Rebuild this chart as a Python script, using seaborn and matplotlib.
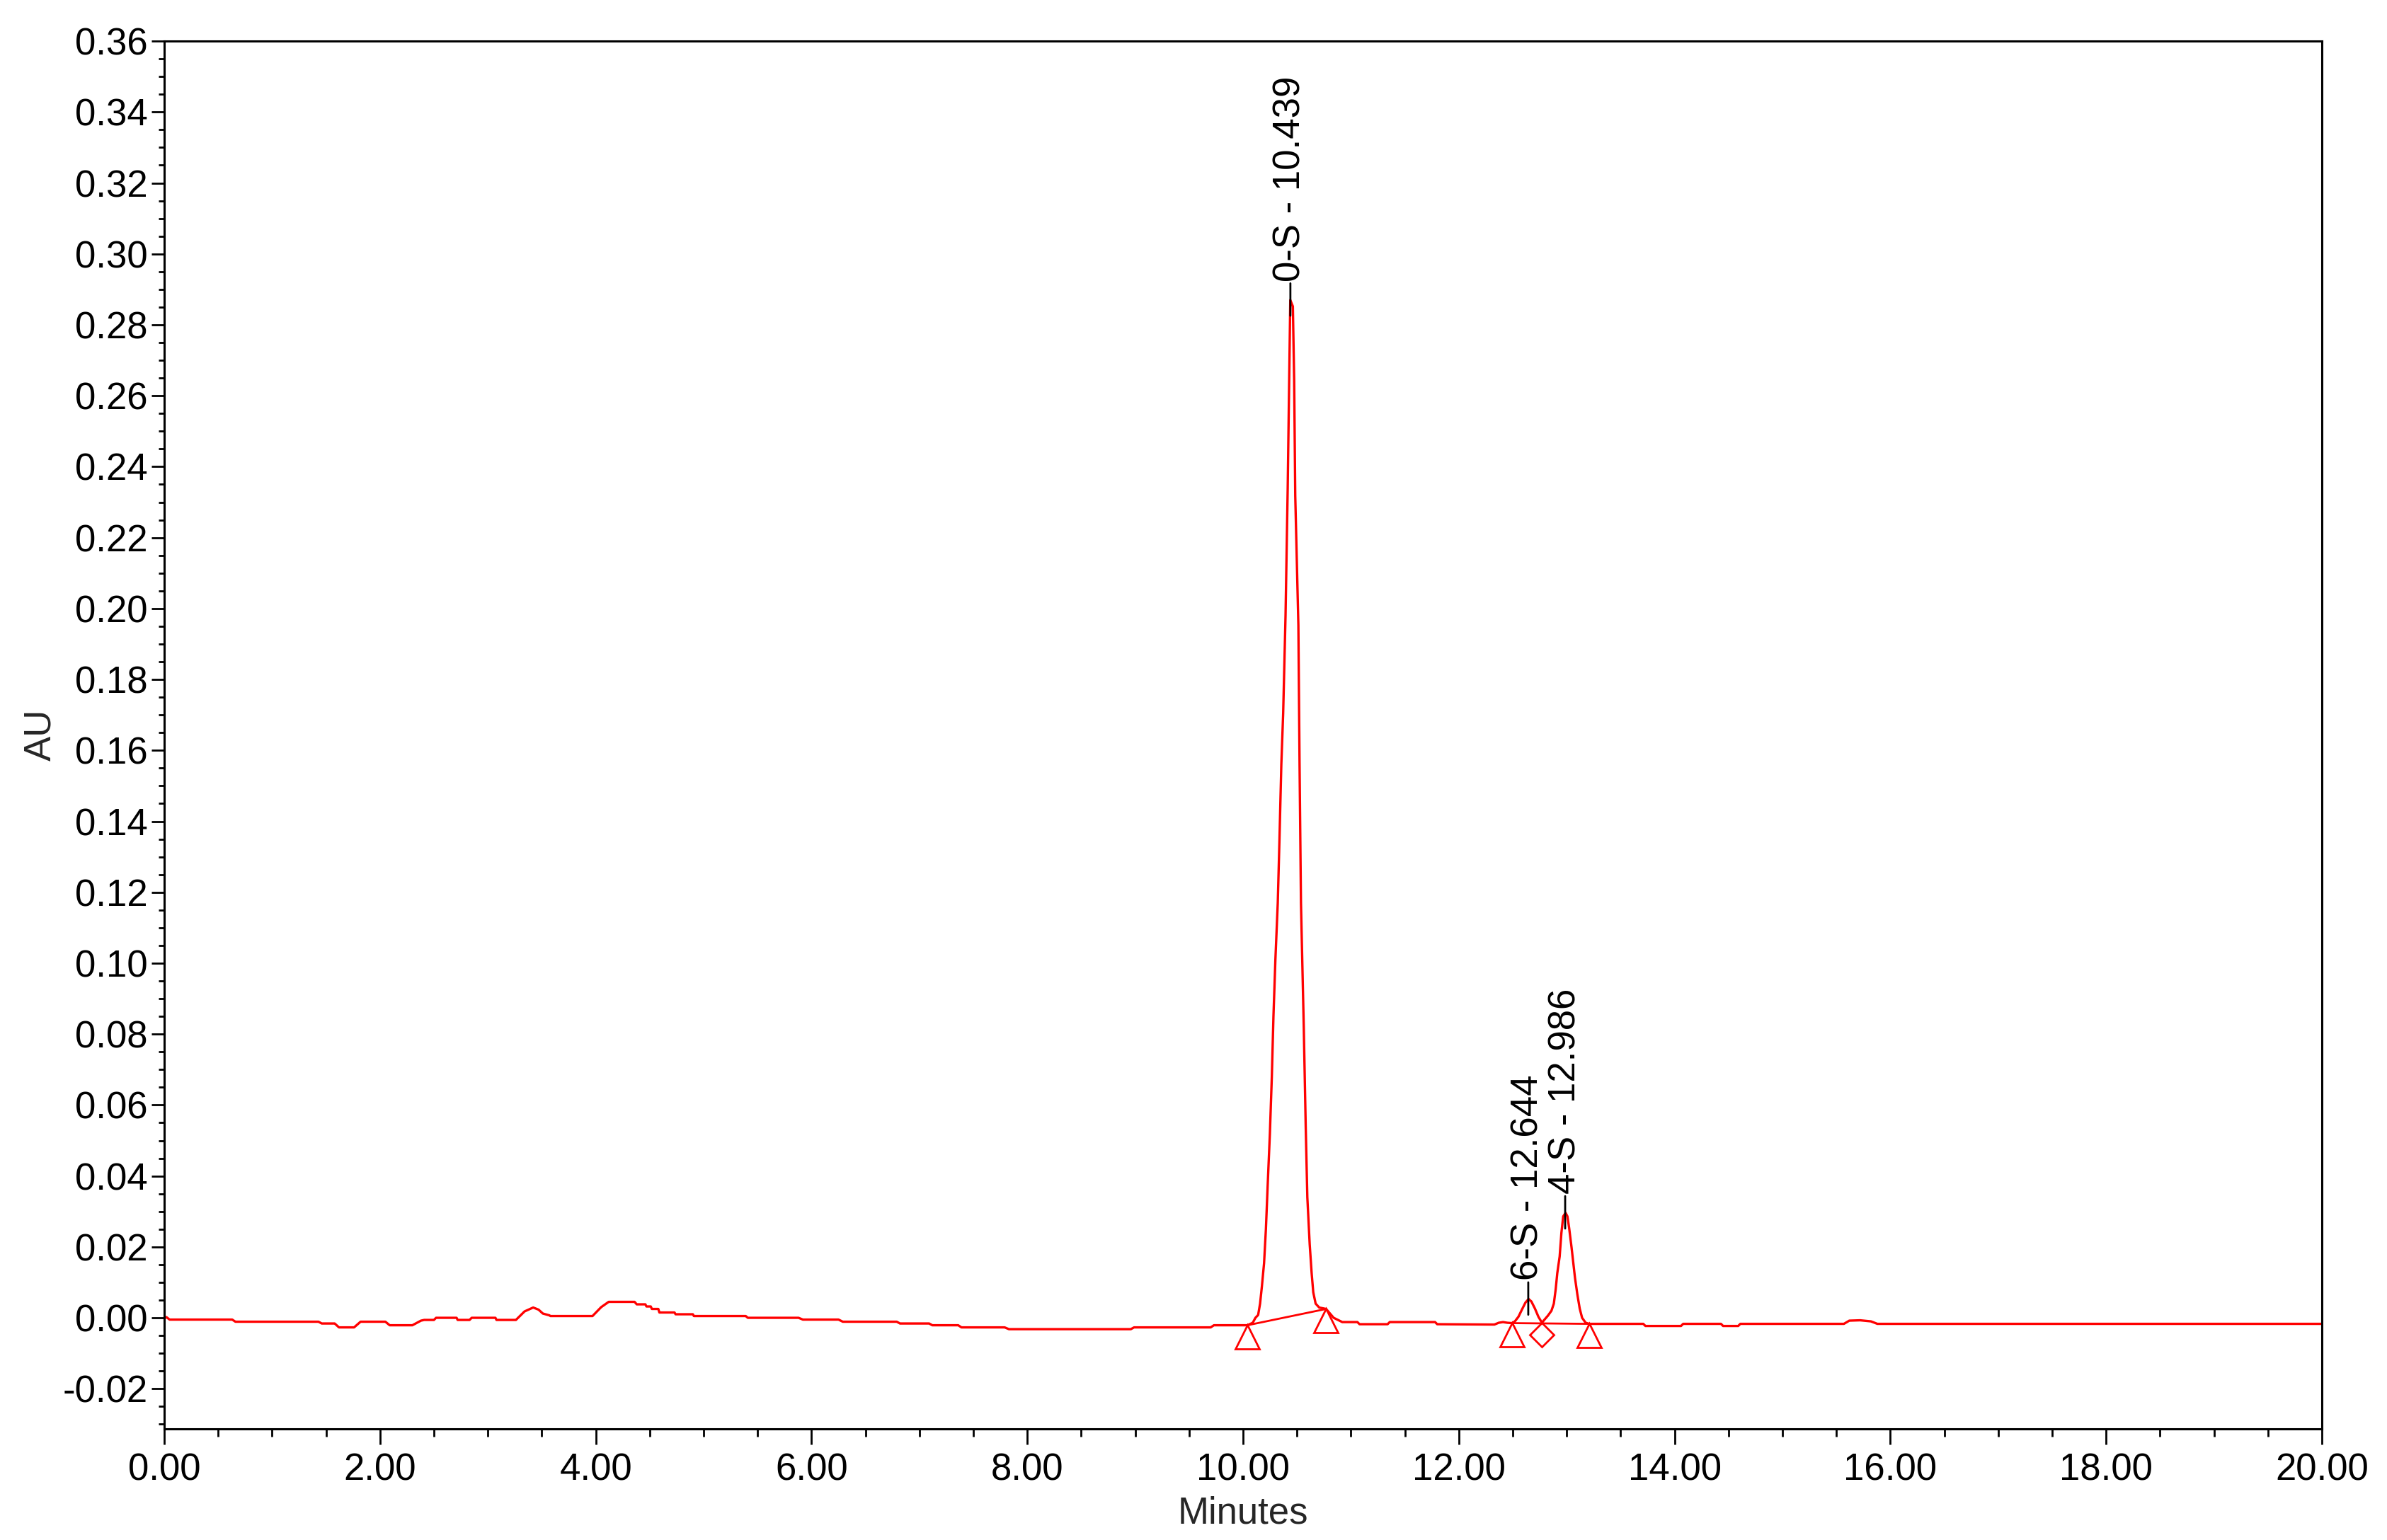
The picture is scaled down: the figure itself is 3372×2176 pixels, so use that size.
import matplotlib
matplotlib.use("Agg")
import matplotlib.pyplot as plt
import pandas as pd
import seaborn as sns
from matplotlib.ticker import MultipleLocator, FormatStrFormatter
from matplotlib.transforms import offset_copy

# chromatogram trace (minutes, AU)
minutes = [
    0.00, 0.02, 0.05, 0.63, 0.66, 1.43, 1.46, 1.58, 1.62, 1.76, 1.82, 2.05, 2.09, 2.30,
    2.38, 2.41, 2.50, 2.52, 2.71, 2.72, 2.83, 2.85, 3.07, 3.08, 3.26, 3.34, 3.42, 3.47,
    3.51, 3.57, 3.58, 3.97, 4.05, 4.12, 4.36, 4.38, 4.46, 4.47, 4.51, 4.52, 4.58, 4.59,
    4.73, 4.74, 4.90, 4.91, 5.39, 5.41, 5.88, 5.92, 6.25, 6.29, 6.79, 6.82, 7.09, 7.12,
    7.36, 7.39, 7.79, 7.83, 8.96, 8.99, 9.70, 9.73, 10.04,
    # 0-S
    10.09, 10.115, 10.140, 10.158, 10.175, 10.195, 10.212, 10.228, 10.249, 10.267,
    10.282, 10.300, 10.322, 10.337, 10.355, 10.372, 10.394, 10.414, 10.429, 10.438,
    10.462, 10.474, 10.484, 10.513, 10.524, 10.537, 10.563, 10.581, 10.596, 10.618,
    10.636, 10.651, 10.673, 10.706, 10.77, 10.84, 10.92,
    11.06, 11.08, 11.34, 11.36, 11.78, 11.80, 12.33, 12.37, 12.41, 12.45,
    # 6-S and 4-S
    12.494, 12.520, 12.553, 12.585, 12.618, 12.647, 12.673, 12.706, 12.738, 12.771,
    12.789, 12.826, 12.859, 12.881, 12.898, 12.913, 12.935, 12.951, 12.968, 12.990,
    13.007, 13.023, 13.045, 13.060, 13.077, 13.099, 13.121, 13.143, 13.176, 13.209,
    13.71, 13.73, 14.06, 14.08, 14.43, 14.45, 14.59, 14.61, 15.57, 15.62, 15.72,
    15.82, 15.88, 20.00,
]
au = [
    -0.0002, 0.0002, -0.0005, -0.0005, -0.0011, -0.0011, -0.0016, -0.0016, -0.0027, -0.0027,
    -0.0011, -0.0011, -0.0021, -0.0021, -0.0008, -0.0006, -0.0006, 0.0000, 0.0000, -0.0006,
    -0.0006, 0.0000, 0.0000, -0.0006, -0.0006, 0.0018, 0.0029, 0.0023, 0.0012, 0.0007,
    0.0005, 0.0005, 0.0030, 0.0045, 0.0045, 0.0038, 0.0038, 0.0032, 0.0032, 0.0025,
    0.0025, 0.0015, 0.0015, 0.0010, 0.0010, 0.0005, 0.0005, 0.0000, 0.0000, -0.0005,
    -0.0005, -0.0011, -0.0011, -0.0016, -0.0016, -0.0021, -0.0021, -0.0027, -0.0027, -0.0032,
    -0.0032, -0.0027, -0.0027, -0.0021, -0.0021,
    -0.0014, 0.0000, 0.0008, 0.0040, 0.0089, 0.0154, 0.0250, 0.0370, 0.0520, 0.0680,
    0.0850, 0.1010, 0.1170, 0.1340, 0.1560, 0.1704, 0.1980, 0.2338, 0.2680, 0.2870,
    0.2852, 0.2643, 0.2318, 0.1953, 0.1560, 0.1170, 0.0820, 0.0540, 0.0340, 0.0207,
    0.0126, 0.0072, 0.0040, 0.0029, 0.0025, 0.0000, -0.0012,
    -0.0012, -0.0018, -0.0018, -0.0012, -0.0012, -0.0018, -0.0019, -0.0014, -0.0012, -0.0014,
    -0.0015, -0.0010, 0.0003, 0.0023, 0.0043, 0.0053, 0.0046, 0.0026, 0.0003, -0.0014,
    -0.0007, 0.0006, 0.0020, 0.0040, 0.0080, 0.0126, 0.0173, 0.0239, 0.0286, 0.0296,
    0.0286, 0.0253, 0.0199, 0.0159, 0.0113, 0.0066, 0.0026, 0.0000, -0.0014, -0.0017,
    -0.0017, -0.0023, -0.0023, -0.0017, -0.0017, -0.0023, -0.0023, -0.0017, -0.0017, -0.0008,
    -0.0007, -0.0010, -0.0017, -0.0017,
]

# integration marks
start_end_t = [10.04, 10.77, 12.494, 13.209]
start_end_au = [-0.0021, 0.0025, -0.0015, -0.0017]
valley_t = [12.771]
valley_au = [-0.0014]
# integration baselines (start -> end)
base_t = [[10.04, 10.77], [12.494, 13.209]]
base_au = [[-0.0021, 0.0025], [-0.0015, -0.0017]]

peak_names = ["0-S", "6-S", "4-S"]
peak_times = [10.439, 12.644, 12.986]
peak_heights = [0.2870, 0.0053, 0.0296]

sns.set_style("ticks")
plt.rcParams["font.family"] = ["Liberation Sans", "DejaVu Sans"]
plt.rcParams["axes.unicode_minus"] = False

fig = plt.figure(figsize=(16.86, 10.88), dpi=200)
ax = fig.add_axes([0.0688, 0.0722, 0.9039, 0.9011])

df = pd.DataFrame({"Minutes": minutes, "AU": au})
sns.lineplot(data=df, x="Minutes", y="AU", color="red", lw=1.2,
             estimator=None, sort=False, ax=ax)

for bt, ba in zip(base_t, base_au):
    ax.plot(bt, ba, color="red", lw=1.0)

# triangles / diamond hang below the point they mark
tri_trans = offset_copy(ax.transData, fig=fig, y=-6, units="points")
ax.plot(start_end_t, start_end_au, ls="none", marker="^", ms=12, mfc="none",
        mec="red", mew=1.0, transform=tri_trans)
dia_trans = offset_copy(ax.transData, fig=fig, y=-6, units="points")
ax.plot(valley_t, valley_au, ls="none", marker="D", ms=8.5, mfc="none",
        mec="red", mew=1.0, transform=dia_trans)

low = offset_copy(ax.transData, fig=fig, y=-8, units="points")
high = offset_copy(ax.transData, fig=fig, y=8.5, units="points")
for name, rt, h in zip(peak_names, peak_times, peak_heights):
    ax.annotate("", xy=(rt, h), xycoords=low, xytext=(rt, h), textcoords=high,
                arrowprops=dict(arrowstyle="-", color="black", lw=1.0,
                                shrinkA=0, shrinkB=0))
    ax.annotate(f"{name} - {rt:.3f}", xy=(rt, h), xytext=(0, 9.5),
                textcoords="offset points", rotation=90, ha="center",
                va="bottom", fontsize=19, color="black")

ax.set_xlim(0, 20)
ax.set_ylim(-0.0313, 0.36)
ax.xaxis.set_major_locator(MultipleLocator(2))
ax.xaxis.set_minor_locator(MultipleLocator(0.5))
ax.yaxis.set_major_locator(MultipleLocator(0.02))
ax.yaxis.set_minor_locator(MultipleLocator(0.005))
ax.xaxis.set_major_formatter(FormatStrFormatter("%.2f"))
ax.yaxis.set_major_formatter(FormatStrFormatter("%.2f"))

ax.tick_params(axis="x", which="major", length=8, width=1.0, pad=4, labelsize=19)
ax.tick_params(axis="x", which="minor", length=4, width=1.0)
ax.tick_params(axis="y", which="major", length=6.5, width=1.0, pad=2, labelsize=19)
ax.tick_params(axis="y", which="minor", length=3, width=1.0)
ax.tick_params(top=False, right=False, which="both", colors="black")

for sp in ax.spines.values():
    sp.set_visible(True)
    sp.set_color("black")
    sp.set_linewidth(1.1)

ax.set_xlabel("Minutes", fontsize=19, labelpad=4)
ax.set_ylabel("AU", fontsize=19, labelpad=2)

fig.savefig("out.png", dpi=200)
